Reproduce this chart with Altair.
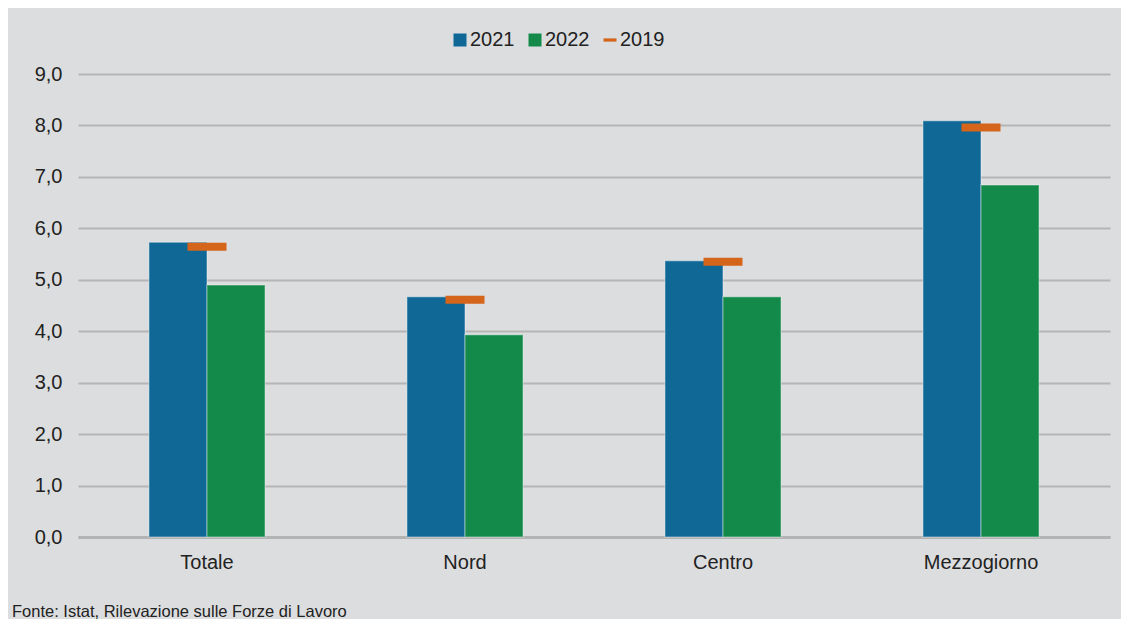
import altair as alt
import pandas as pd

categories = ["Totale", "Nord", "Centro", "Mezzogiorno"]
v2021 = [5.73, 4.67, 5.37, 8.09]
v2022 = [4.90, 3.93, 4.67, 6.84]
v2019 = [5.64, 4.61, 5.35, 7.96]
years = ["2021", "2022", "2019"]
colors = ["#0f6896", "#138a4a", "#d4651a"]
y_ticks = [0, 1, 2, 3, 4, 5, 6, 7, 8, 9]

rows = []
for c, a, b, d in zip(categories, v2021, v2022, v2019):
    rows.append({"cat": c, "year": "2021", "value": a})
    rows.append({"cat": c, "year": "2022", "value": b})
    rows.append({"cat": c, "year": "2019", "value": d})
df = pd.DataFrame(rows)

FONT = "Liberation Sans"
TXT = "#222222"

x_enc = alt.X(
    "cat:N",
    sort=categories,
    title=None,
    scale=alt.Scale(paddingInner=0.55, paddingOuter=0.275),
    axis=alt.Axis(
        labelAngle=0,
        labelFontSize=20,
        labelFont=FONT,
        labelColor=TXT,
        labelPadding=15,
        ticks=False,
        domain=True,
        domainColor="#b3b3b3",
        domainWidth=3,
        grid=False,
    ),
)
y_enc = alt.Y(
    "value:Q",
    title=None,
    scale=alt.Scale(domain=[0, 9], nice=False, zero=True),
    axis=alt.Axis(
        values=y_ticks,
        labelExpr="replace(format(datum.value, '.1f'), '.', ',')",
        labelFontSize=20,
        labelFont=FONT,
        labelColor=TXT,
        labelPadding=16,
        ticks=False,
        domain=False,
        grid=True,
        gridColor="#b5b5b5",
        gridWidth=2,
    ),
)
color_enc = alt.Color(
    "year:N",
    scale=alt.Scale(domain=years, range=colors),
    title=None,
)

base = alt.Chart(df)

bars = base.transform_filter(
    alt.FieldOneOfPredicate(field="year", oneOf=["2021", "2022"])
).mark_bar(stroke="white", strokeOpacity=0.3, strokeWidth=1.5).encode(
    x=x_enc,
    y=y_enc,
    xOffset=alt.XOffset("year:N", scale=alt.Scale(domain=["2021", "2022"], paddingInner=0, paddingOuter=0)),
    color=color_enc,
)

ticks = base.transform_filter(
    alt.datum.year == "2019"
).mark_tick(size=39, thickness=8, opacity=1).encode(
    x=x_enc,
    y=y_enc,
    color=color_enc,
)

legend_pts = base.transform_filter("false").mark_point(filled=True, opacity=1).encode(
    x=x_enc,
    y=y_enc,
    color=color_enc,
    shape=alt.Shape(
        "year:N",
        scale=alt.Scale(domain=years, range=["square", "square", "M-1,-0.25H1V0.25H-1Z"]),
        title=None,
    ),
)

chart = alt.layer(bars, ticks, legend_pts).properties(
    width=1032,
    height=463,
    autosize=alt.AutoSizeParams(type="none"),
    padding={"left": 70, "top": 66, "right": 11, "bottom": 82},
    background="#dcdddf",
    title=alt.TitleParams(
        "Fonte: Istat, Rilevazione sulle Forze di Lavoro",
        orient="bottom",
        anchor="start",
        frame="group",
        dx=-66,
        offset=32,
        fontSize=16.5,
        font=FONT,
        fontWeight="normal",
        color=TXT,
    ),
).configure_view(stroke=None).configure_legend(
    orient="none",
    legendX=372,
    legendY=-44,
    direction="horizontal",
    labelFontSize=20,
    labelFont=FONT,
    labelColor=TXT,
    labelOffset=0,
    columnPadding=10,
    symbolSize=169,
    symbolStrokeWidth=0,
    symbolOpacity=1,
    padding=0,
)

chart.save("out.html", embed_options={"renderer": "svg", "actions": False})
